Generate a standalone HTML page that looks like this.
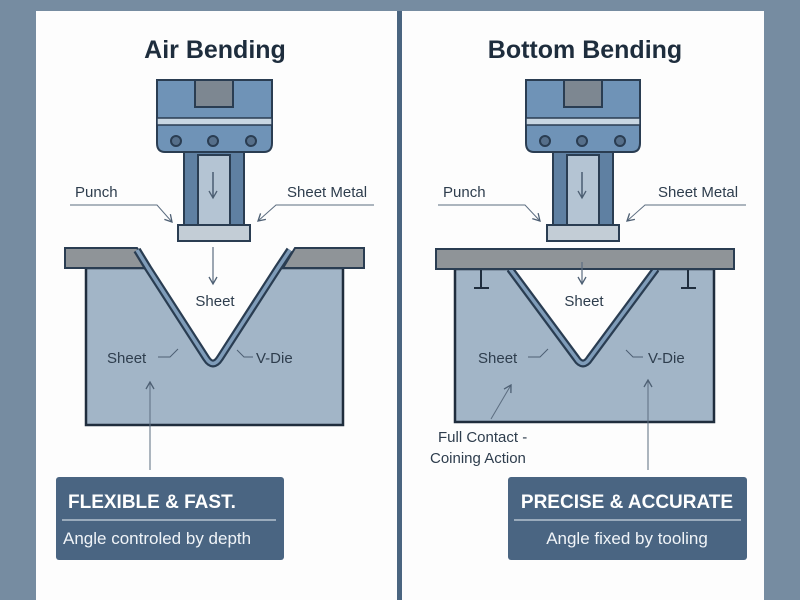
<!DOCTYPE html>
<html><head><meta charset="utf-8"><style>
body{margin:0;width:800px;height:600px;overflow:hidden;background:#768ca1;}
svg{display:block}
text{font-family:"Liberation Sans",sans-serif;}
</style></head><body>
<svg width="800" height="600" viewBox="0 0 800 600">
<defs>
<marker id="ah" markerWidth="10" markerHeight="10" refX="8" refY="5" orient="auto" markerUnits="userSpaceOnUse"><path d="M1,1 L8,5 L1,9" fill="none" stroke="#4d5f73" stroke-width="1.3"/></marker>
</defs>
<rect width="800" height="600" fill="#768ca1"/>
<rect x="36" y="11" width="361" height="589" fill="#fdfdfd"/>
<rect x="397" y="11" width="5" height="589" fill="#4a6580"/>
<rect x="402" y="11" width="362" height="589" fill="#fdfdfd"/>

<!-- LEFT -->
<g>
<text x="215" y="58" font-size="25" font-weight="bold" fill="#1e2d3d" text-anchor="middle">Air Bending</text>
<path d="M157,80 H272 V143 Q272,152 264,152 H165 Q157,152 157,143 Z" fill="#6f93b7" stroke="#2a3d52" stroke-width="2"/>
<rect x="195" y="80" width="38" height="27" fill="#7d8791" stroke="#2a3d52" stroke-width="2"/>
<rect x="157" y="118" width="115" height="7" fill="#c8d6e2" stroke="#2a3d52" stroke-width="1.5"/>
<circle cx="176" cy="141" r="5" fill="#566f8a" stroke="#2a3d52" stroke-width="2"/>
<circle cx="213" cy="141" r="5" fill="#566f8a" stroke="#2a3d52" stroke-width="2"/>
<circle cx="251" cy="141" r="5" fill="#566f8a" stroke="#2a3d52" stroke-width="2"/>
<rect x="184" y="152" width="60" height="73" fill="#5f80a2" stroke="#2a3d52" stroke-width="2"/>
<rect x="198" y="155" width="32" height="70" fill="#b4c4d3" stroke="#2a3d52" stroke-width="2"/>
<rect x="178" y="225" width="72" height="16" fill="#c3cdd6" stroke="#2a3d52" stroke-width="2"/>
<line x1="213" y1="172" x2="213" y2="198" stroke="#3a4d62" stroke-width="1.3" marker-end="url(#ah)"/>
<text x="75" y="197" font-size="15" fill="#2e3d4d">Punch</text>
<polyline points="70,205 157,205 172,222" fill="none" stroke="#5c6d80" stroke-width="1" marker-end="url(#ah)"/>
<text x="287" y="197" font-size="15" fill="#2e3d4d">Sheet Metal</text>
<polyline points="374,205 276,205 258,221" fill="none" stroke="#5c6d80" stroke-width="1" marker-end="url(#ah)"/>
<path d="M86,268 L145,268 L205,360 Q213,372 221,360 L281,268 L343,268 L343,425 L86,425 Z" fill="#a2b5c7" stroke="#1f2d3d" stroke-width="2.5"/>
<polygon points="65,248 137,248 151,268 65,268" fill="#8f9498" stroke="#2a3d52" stroke-width="2"/>
<polygon points="295,248 364,248 364,268 283,268" fill="#8f9498" stroke="#2a3d52" stroke-width="2"/>
<path d="M137,250 L148,268 L206,358 Q213,369 220,358 L278,268 L290,250" fill="none" stroke="#2a3d52" stroke-width="8" stroke-linejoin="round"/>
<path d="M137,250 L148,268 L206,358 Q213,369 220,358 L278,268 L290,250" fill="none" stroke="#7f9cb9" stroke-width="3.5" stroke-linejoin="round"/>
<line x1="213" y1="247" x2="213" y2="284" stroke="#5c6d80" stroke-width="1.2" marker-end="url(#ah)"/>
<text x="215" y="306" font-size="15" fill="#2e3d4d" text-anchor="middle">Sheet</text>
<text x="107" y="363" font-size="15" fill="#2e3d4d">Sheet</text>
<polyline points="158,357 170,357 178,349" fill="none" stroke="#4d5f73" stroke-width="1"/>
<text x="256" y="363" font-size="15" fill="#2e3d4d">V-Die</text>
<polyline points="253,357 244,357 237,350" fill="none" stroke="#4d5f73" stroke-width="1"/>
<line x1="150" y1="470" x2="150" y2="382" stroke="#5c6d80" stroke-width="1" marker-end="url(#ah)"/>
<rect x="56" y="477" width="228" height="83" rx="3" fill="#4a6582"/>
<text x="68" y="508" font-size="19" font-weight="bold" fill="#fff">FLEXIBLE &amp; FAST.</text>
<line x1="62" y1="520" x2="276" y2="520" stroke="#c9d5e0" stroke-width="1.2"/>
<text x="63" y="544" font-size="17" fill="#f0f4f8">Angle controled by depth</text>
</g>

<!-- RIGHT -->
<g>
<text x="585" y="58" font-size="25" font-weight="bold" fill="#1e2d3d" text-anchor="middle">Bottom Bending</text>
<path d="M526,80 H640 V143 Q640,152 632,152 H534 Q526,152 526,143 Z" fill="#6f93b7" stroke="#2a3d52" stroke-width="2"/>
<rect x="564" y="80" width="38" height="27" fill="#7d8791" stroke="#2a3d52" stroke-width="2"/>
<rect x="526" y="118" width="114" height="7" fill="#c8d6e2" stroke="#2a3d52" stroke-width="1.5"/>
<circle cx="545" cy="141" r="5" fill="#566f8a" stroke="#2a3d52" stroke-width="2"/>
<circle cx="582" cy="141" r="5" fill="#566f8a" stroke="#2a3d52" stroke-width="2"/>
<circle cx="620" cy="141" r="5" fill="#566f8a" stroke="#2a3d52" stroke-width="2"/>
<rect x="553" y="152" width="60" height="73" fill="#5f80a2" stroke="#2a3d52" stroke-width="2"/>
<rect x="567" y="155" width="32" height="70" fill="#b4c4d3" stroke="#2a3d52" stroke-width="2"/>
<rect x="547" y="225" width="72" height="16" fill="#c3cdd6" stroke="#2a3d52" stroke-width="2"/>
<line x1="582" y1="172" x2="582" y2="198" stroke="#3a4d62" stroke-width="1.3" marker-end="url(#ah)"/>
<text x="443" y="197" font-size="15" fill="#2e3d4d">Punch</text>
<polyline points="438,205 525,205 540,221" fill="none" stroke="#5c6d80" stroke-width="1" marker-end="url(#ah)"/>
<text x="658" y="197" font-size="15" fill="#2e3d4d">Sheet Metal</text>
<polyline points="746,205 645,205 627,221" fill="none" stroke="#5c6d80" stroke-width="1" marker-end="url(#ah)"/>
<path d="M455,269 L508,269 L575,360 Q583,372 591,360 L658,269 L714,269 L714,422 L455,422 Z" fill="#a2b5c7" stroke="#1f2d3d" stroke-width="2.5"/>
<path d="M510,269 L576,358 Q583,369 590,358 L656,269" fill="none" stroke="#2a3d52" stroke-width="8" stroke-linejoin="round"/>
<path d="M510,269 L576,358 Q583,369 590,358 L656,269" fill="none" stroke="#7f9cb9" stroke-width="3.5" stroke-linejoin="round"/>
<rect x="436" y="249" width="298" height="20" fill="#8f9498" stroke="#2a3d52" stroke-width="2"/>
<path d="M481,270 V288 M474,288 H489 M688,270 V288 M681,288 H696" stroke="#1f2d3d" stroke-width="2" fill="none"/>
<line x1="582" y1="262" x2="582" y2="284" stroke="#5c6d80" stroke-width="1.2" marker-end="url(#ah)"/>
<text x="584" y="306" font-size="15" fill="#2e3d4d" text-anchor="middle">Sheet</text>
<text x="478" y="363" font-size="15" fill="#2e3d4d">Sheet</text>
<polyline points="528,357 540,357 548,349" fill="none" stroke="#4d5f73" stroke-width="1"/>
<text x="648" y="363" font-size="15" fill="#2e3d4d">V-Die</text>
<polyline points="643,357 633,357 626,350" fill="none" stroke="#4d5f73" stroke-width="1"/>
<text x="438" y="442" font-size="15" fill="#2e3d4d">Full Contact -</text>
<text x="430" y="463" font-size="15" fill="#2e3d4d">Coining Action</text>
<line x1="491" y1="419" x2="511" y2="385" stroke="#5c6d80" stroke-width="1" marker-end="url(#ah)"/>
<line x1="648" y1="470" x2="648" y2="380" stroke="#5c6d80" stroke-width="1" marker-end="url(#ah)"/>
<rect x="508" y="477" width="239" height="83" rx="3" fill="#4a6582"/>
<text x="627" y="508" font-size="19" font-weight="bold" fill="#fff" text-anchor="middle">PRECISE &amp; ACCURATE</text>
<line x1="514" y1="520" x2="741" y2="520" stroke="#c9d5e0" stroke-width="1.2"/>
<text x="627" y="544" font-size="17" fill="#f0f4f8" text-anchor="middle">Angle fixed by tooling</text>
</g>
</svg>
</body></html>
